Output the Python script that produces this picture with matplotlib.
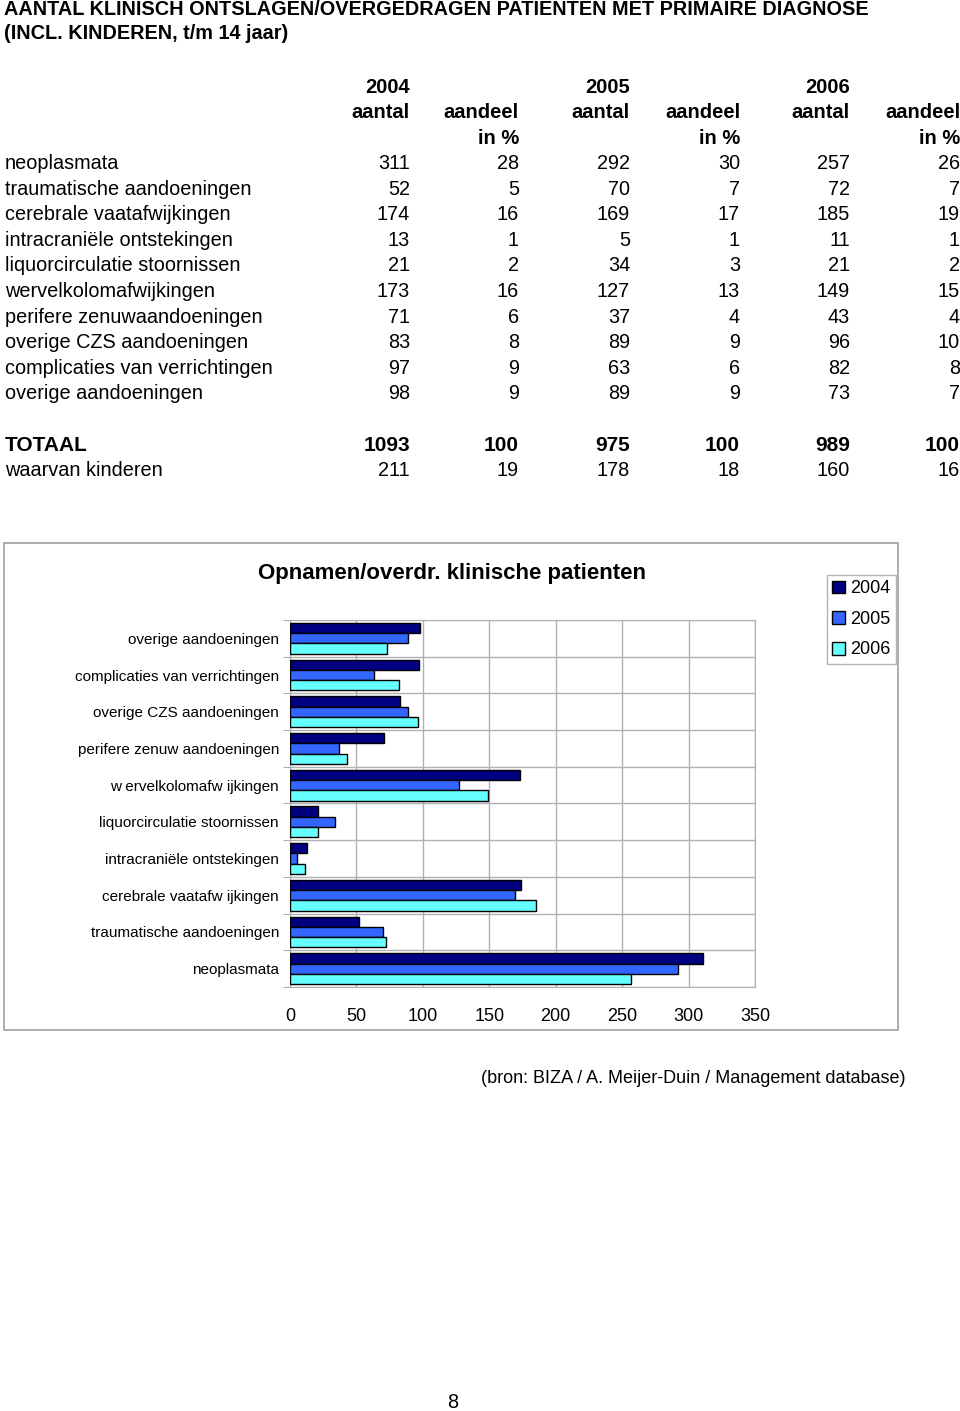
import matplotlib
matplotlib.use('Agg')
import matplotlib.pyplot as plt
from matplotlib.patches import Rectangle

W, H = 960, 1411

diagnoses = ['neoplasmata', 'traumatische aandoeningen', 'cerebrale vaatafwijkingen',
             'intracraniële ontstekingen', 'liquorcirculatie stoornissen',
             'wervelkolomafwijkingen', 'perifere zenuwaandoeningen', 'overige CZS aandoeningen',
             'complicaties van verrichtingen', 'overige aandoeningen']
chart_labels = ['neoplasmata', 'traumatische aandoeningen', 'cerebrale vaatafw ijkingen',
                'intracraniële ontstekingen', 'liquorcirculatie stoornissen',
                'w ervelkolomafw ijkingen', 'perifere zenuw aandoeningen', 'overige CZS aandoeningen',
                'complicaties van verrichtingen', 'overige aandoeningen']
years = ['2004', '2005', '2006']
aantal_2004 = [311, 52, 174, 13, 21, 173, 71, 83, 97, 98]
aandeel_2004 = [28, 5, 16, 1, 2, 16, 6, 8, 9, 9]
aantal_2005 = [292, 70, 169, 5, 34, 127, 37, 89, 63, 89]
aandeel_2005 = [30, 7, 17, 1, 3, 13, 4, 9, 6, 9]
aantal_2006 = [257, 72, 185, 11, 21, 149, 43, 96, 82, 73]
aandeel_2006 = [26, 7, 19, 1, 2, 15, 4, 10, 8, 7]
totaal = [1093, 100, 975, 100, 989, 100]
kinderen = [211, 19, 178, 18, 160, 16]
colors = ['#000080', '#3366ff', '#66ffff']

NARROW = ['Liberation Sans Narrow', 'Liberation Sans', 'DejaVu Sans']
ARIAL = ['Liberation Sans', 'DejaVu Sans']


def fx(x):
    return x / W


def fy(y):
    return 1 - y / H


fig = plt.figure(figsize=(W / 100, H / 100), dpi=100)

# title
fig.text(fx(4), fy(15), 'AANTAL KLINISCH ONTSLAGEN/OVERGEDRAGEN PATIENTEN MET PRIMAIRE DIAGNOSE',
         family=NARROW, weight='bold', fontsize=14.3, va='baseline')
fig.text(fx(4), fy(39), '(INCL. KINDEREN, t/m 14 jaar)',
         family=NARROW, weight='bold', fontsize=14.3, va='baseline')

# table header
col_x = [410, 519, 630, 740, 850, 960]
for i, yr in enumerate(years):
    fig.text(fx(col_x[2 * i]), fy(93), yr, family=NARROW, weight='bold', fontsize=14.5,
             ha='right', va='baseline')
    fig.text(fx(col_x[2 * i]), fy(118), 'aantal', family=NARROW, weight='bold', fontsize=14.5,
             ha='right', va='baseline')
    fig.text(fx(col_x[2 * i + 1]), fy(118), 'aandeel', family=NARROW, weight='bold', fontsize=14.5,
             ha='right', va='baseline')
    fig.text(fx(col_x[2 * i + 1]), fy(144), 'in %', family=NARROW, weight='bold', fontsize=14.5,
             ha='right', va='baseline')

# table rows
cols = [aantal_2004, aandeel_2004, aantal_2005, aandeel_2005, aantal_2006, aandeel_2006]
for r, name in enumerate(diagnoses):
    yb = 169 + r * 25.6
    fig.text(fx(5), fy(yb), name, family=ARIAL, fontsize=14.3, va='baseline')
    for c, vals in enumerate(cols):
        fig.text(fx(col_x[c]), fy(yb), str(vals[r]), family=ARIAL, fontsize=14.3,
                 ha='right', va='baseline')

fig.text(fx(5), fy(451), 'TOTAAL', family=NARROW, weight='bold', fontsize=15, va='baseline')
for c, v in enumerate(totaal):
    fig.text(fx(col_x[c]), fy(451), str(v), family=NARROW, weight='bold', fontsize=15,
             ha='right', va='baseline')
fig.text(fx(5), fy(476), 'waarvan kinderen', family=NARROW, fontsize=14.3, va='baseline')
for c, v in enumerate(kinderen):
    fig.text(fx(col_x[c]), fy(476), str(v), family=NARROW, fontsize=14.3,
             ha='right', va='baseline')

# chart frame
fig.patches.append(Rectangle((fx(4), fy(1030)), fx(898 - 4), (1030 - 543) / H,
                             transform=fig.transFigure, fill=False, edgecolor='#a0a0a0', lw=1.2))

ax = fig.add_axes([fx(290), fy(987), fx(755 - 290), (987 - 620) / H])
n = len(chart_labels)
bh = 0.28
series = [aantal_2004, aantal_2005, aantal_2006]
for k, (yr, vals) in enumerate(zip(years, series)):
    pos = [i + bh * (1 - k) for i in range(n)]
    ax.barh(pos, vals, height=bh, color=colors[k], edgecolor='black', lw=1.0, label=yr, zorder=3)

ax.set_xlim(0, 350)
ax.set_ylim(-0.5, n - 0.5)
ax.set_xticks(range(0, 351, 50))
ax.set_yticks(range(n))
ax.set_yticklabels(chart_labels, family=ARIAL, fontsize=11)
ax.tick_params(axis='y', length=0, pad=8)
ax.tick_params(axis='x', length=0, pad=15, labelsize=13)
for lab in ax.get_xticklabels():
    lab.set_family(ARIAL)
ax.set_yticks([i - 0.5 for i in range(n + 1)], minor=True)
ax.tick_params(axis='y', which='minor', length=5, color='#999999')
ax.grid(axis='x', color='#b0b0b0', lw=1.0, zorder=0)
ax.grid(axis='y', which='minor', color='#b0b0b0', lw=1.0, zorder=0)
for s in ax.spines.values():
    s.set_color('#b0b0b0')

fig.text(fx(452), fy(573), 'Opnamen/overdr. klinische patienten', family=ARIAL, weight='bold',
         fontsize=16, ha='center', va='center')

handles, labels = ax.get_legend_handles_labels()
leg = fig.legend(handles, labels, loc='upper left', bbox_to_anchor=(fx(827), fy(575)),
                 prop={'family': ARIAL, 'size': 13}, frameon=True, fancybox=False,
                 handlelength=0.7, handleheight=0.7, handletextpad=0.3, labelspacing=0.75,
                 borderpad=0.3, borderaxespad=0)
leg.get_frame().set_edgecolor('#a0a0a0')
leg.get_frame().set_linewidth(1.0)

fig.text(fx(481), fy(1083), '(bron: BIZA / A. Meijer-Duin / Management database)',
         family=ARIAL, fontsize=13.0, va='baseline')
fig.text(fx(453), fy(1408), '8', family=ARIAL, fontsize=14.3, ha='center', va='baseline')

fig.savefig('out.png', dpi=100)
